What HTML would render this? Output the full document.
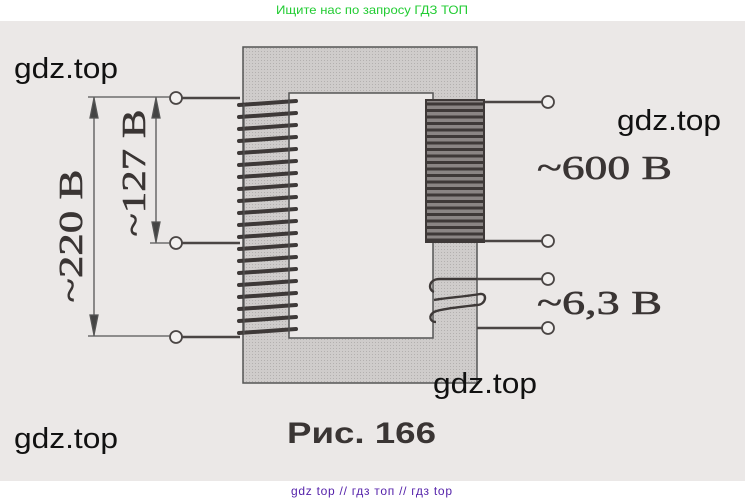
<!DOCTYPE html>
<html><head><meta charset="utf-8"><style>
html,body{margin:0;padding:0;background:#fff;}
svg{display:block}
</style></head><body>
<svg width="745" height="503" viewBox="0 0 745 503" xmlns="http://www.w3.org/2000/svg">
<defs>
<pattern id="dots" width="3" height="3" patternUnits="userSpaceOnUse">
<rect width="3" height="3" fill="#cfcccb"/><rect width="1" height="1" fill="#b3b0af"/>
</pattern>
</defs>
<rect x="0" y="0" width="745" height="503" fill="#fff"/>
<rect x="0" y="21" width="745" height="460" fill="#ebe8e7"/>
<text x="372" y="14" font-family="Liberation Sans, sans-serif" font-size="12" fill="#22cc33" text-anchor="middle" textLength="192" lengthAdjust="spacingAndGlyphs">Ищите нас по запросу ГДЗ ТОП</text>

<path d="M243,47 H477 V383 H243 Z M289,93 V338 H433 V93 Z" fill="url(#dots)" fill-rule="evenodd" stroke="#555" stroke-width="1.5"/>

<g stroke="#4a4544" stroke-width="2.5" fill="none">
<line x1="182" y1="98" x2="240" y2="98"/>
<line x1="182" y1="243" x2="240" y2="243"/>
<line x1="182" y1="337" x2="240" y2="337"/>
<line x1="485" y1="102" x2="542" y2="102"/>
<line x1="485" y1="241" x2="542" y2="241"/>
<line x1="477" y1="279" x2="542" y2="279"/>
<line x1="477" y1="328" x2="542" y2="328"/>
</g>
<g stroke="#4a4544" stroke-width="1.8" fill="#f2f0ef">
<circle cx="176" cy="98" r="6"/>
<circle cx="176" cy="243" r="6"/>
<circle cx="176" cy="337" r="6"/>
<circle cx="548" cy="102" r="6"/>
<circle cx="548" cy="241" r="6"/>
<circle cx="548" cy="279" r="6"/>
<circle cx="548" cy="328" r="6"/>
</g>

<g stroke="#3e3938" stroke-width="4" stroke-linecap="round" fill="none">
<path d="M239,105 L296,101 M239,117 L296,113 M239,129 L296,125 M239,141 L296,137 M239,153 L296,149 M239,165 L296,161 M239,177 L296,173 M239,189 L296,185 M239,201 L296,197 M239,213 L296,209 M239,225 L296,221 M239,237 L296,233 M239,249 L296,245 M239,261 L296,257 M239,273 L296,269 M239,285 L296,281 M239,297 L296,293 M239,309 L296,305 M239,321 L296,317 M239,333 L296,329"/>
</g>
<line x1="244" y1="104" x2="244" y2="334" stroke="#555" stroke-width="1.2"/>
<line x1="289" y1="100" x2="289" y2="334" stroke="#555" stroke-width="1.2"/>

<rect x="426" y="100" width="58" height="142" fill="#8a8584"/>
<g stroke="#3e3938" stroke-width="3" fill="none">
<path d="M426,104 H484 M426,110.5 H484 M426,117 H484 M426,123.5 H484 M426,130 H484 M426,136.5 H484 M426,143 H484 M426,149.5 H484 M426,156 H484 M426,162.5 H484 M426,169 H484 M426,175.5 H484 M426,182 H484 M426,188.5 H484 M426,195 H484 M426,201.5 H484 M426,208 H484 M426,214.5 H484 M426,221 H484 M426,227.5 H484 M426,234 H484 M426,240 H484"/>
</g>
<rect x="426" y="100" width="58" height="142" fill="none" stroke="#3e3938" stroke-width="2"/>

<g stroke="#3e3938" stroke-width="2.4" fill="none">
<path d="M477,279 H440 C428,279 428,290 434,292"/>
<path d="M434,300 C445,298 470,296 480,294 C488,293 486,305 477,305 C460,307 440,309 434,312 C428,316 430,322 436,322"/>
</g>

<g stroke="#555" stroke-width="1.3" fill="#444">
<line x1="88" y1="97" x2="170" y2="97"/>
<line x1="88" y1="336" x2="170" y2="336"/>
<line x1="150" y1="243" x2="170" y2="243"/>
<line x1="94" y1="97" x2="94" y2="336"/>
<line x1="156" y1="97" x2="156" y2="243"/>
<path d="M94,98 L90,118 L98,118 Z"/>
<path d="M94,335 L90,315 L98,315 Z"/>
<path d="M156,98 L152,118 L160,118 Z"/>
<path d="M156,242 L152,222 L160,222 Z"/>
</g>
<g font-family="Liberation Serif, serif" fill="#3a3534" font-size="34" stroke="#3a3534" stroke-width="0.6">
<text transform="translate(82,236) rotate(-90)" text-anchor="middle" textLength="133" lengthAdjust="spacingAndGlyphs">~220 В</text>
<text transform="translate(145,173) rotate(-90)" text-anchor="middle" textLength="127" lengthAdjust="spacingAndGlyphs">~127 В</text>
<text x="537" y="179" textLength="135" lengthAdjust="spacingAndGlyphs">~600 В</text>
<text x="537" y="314" textLength="125" lengthAdjust="spacingAndGlyphs">~6,3 В</text>
</g>
<text x="287" y="443" font-family="Liberation Sans, sans-serif" font-weight="bold" font-size="30" fill="#3a3534" textLength="149" lengthAdjust="spacingAndGlyphs">Рис. 166</text>

<g font-family="Liberation Sans, sans-serif" font-size="29" fill="#111">
<text x="14" y="78" textLength="104" lengthAdjust="spacingAndGlyphs">gdz.top</text>
<text x="617" y="130" textLength="104" lengthAdjust="spacingAndGlyphs">gdz.top</text>
<text x="433" y="393" textLength="104" lengthAdjust="spacingAndGlyphs">gdz.top</text>
<text x="14" y="448" textLength="104" lengthAdjust="spacingAndGlyphs">gdz.top</text>
</g>
<text x="291" y="495" font-family="Liberation Sans, sans-serif" font-size="12" fill="#5522aa" textLength="161" lengthAdjust="spacing">gdz top  //  гдз топ  //  гдз top</text>
</svg>
</body></html>
